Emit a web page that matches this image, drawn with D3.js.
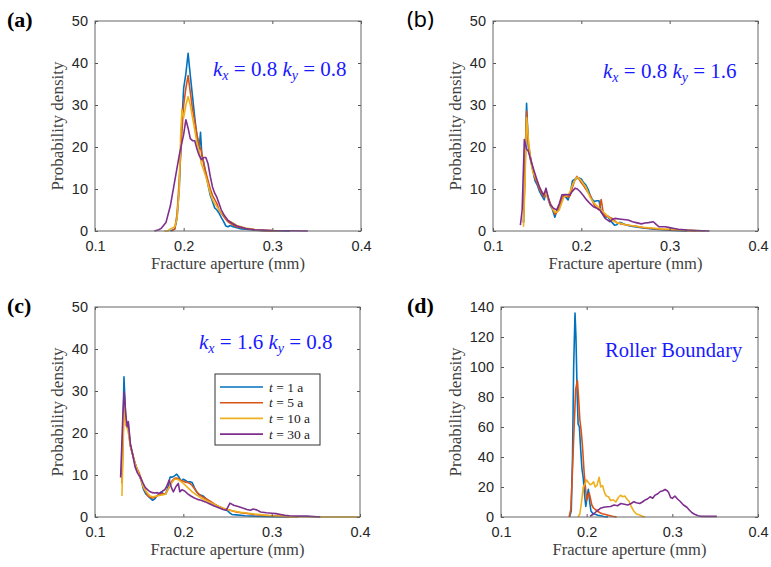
<!DOCTYPE html>
<html lang="en">
<head>
<meta charset="UTF-8">
<script src="https://cdnjs.cloudflare.com/ajax/libs/d3/7.8.5/d3.min.js"></script>
<title>Fracture aperture distributions</title>
<style>
  body { margin: 0; background: #fff; }
  svg { display: block; }
</style>
</head>
<body>
<svg id="fig" width="771" height="567"></svg>
<script>
// ---- data: [aperture (mm), probability density] ----
var aT1 = [[0.185,0],[0.19,0.5],[0.1925,3],[0.195,10],[0.1975,24],[0.2,34],[0.2025,37.5],[0.205,42.3],[0.2075,37],[0.21,32],[0.2125,27],[0.215,22.5],[0.2175,19.5],[0.219,23.5],[0.2205,18],[0.2225,16.5],[0.225,13.5],[0.2275,11],[0.23,8.5],[0.2325,7],[0.235,5.5],[0.2375,5],[0.24,4.2],[0.2425,3.2],[0.245,2.3],[0.2475,1.2],[0.25,1],[0.2525,1.3],[0.255,1.1],[0.26,0.8],[0.265,0.5],[0.27,0.4],[0.28,0.2],[0.29,0.1],[0.3,0.05],[0.32,0]];
var aT5 = [[0.187,0],[0.19,0.5],[0.1925,4],[0.195,12],[0.1975,22],[0.2,30],[0.2025,34],[0.205,37],[0.2075,33],[0.21,29],[0.2125,26],[0.215,23],[0.2175,20.5],[0.22,19],[0.2225,16],[0.225,14],[0.2275,12],[0.23,10],[0.2325,8.5],[0.235,7.5],[0.2375,6.5],[0.24,5],[0.2425,4.2],[0.245,3.5],[0.2475,2.8],[0.25,2.2],[0.255,1.5],[0.26,1],[0.265,0.8],[0.27,0.6],[0.28,0.3],[0.29,0.1],[0.3,0]];
var aT10 = [[0.178,0],[0.182,0],[0.185,0.5],[0.19,1],[0.1925,3],[0.195,10],[0.1965,22],[0.198,29],[0.2,27],[0.2025,30],[0.205,32],[0.2075,30],[0.21,27],[0.2125,24],[0.215,21],[0.2175,19],[0.22,16],[0.2225,14.5],[0.225,13],[0.2275,11],[0.23,9],[0.2325,7.5],[0.235,6.5],[0.2375,5.8],[0.24,5],[0.245,3.8],[0.25,2.5],[0.255,2],[0.26,1.3],[0.265,1],[0.27,0.7],[0.28,0.4],[0.29,0.2],[0.3,0.1],[0.31,0]];
var aT30 = [[0.167,0],[0.172,0.3],[0.175,0.7],[0.18,2],[0.185,6],[0.19,12],[0.195,18],[0.2,23],[0.2025,26.5],[0.205,24.5],[0.2075,22],[0.21,21.5],[0.2125,21.5],[0.215,19.5],[0.2175,18],[0.22,17],[0.2225,17.5],[0.225,17.5],[0.2275,16],[0.23,13],[0.2325,10.5],[0.235,9],[0.2375,8],[0.24,6.5],[0.2425,5],[0.245,4],[0.2475,3.2],[0.25,2.5],[0.255,1.8],[0.26,1.2],[0.265,0.9],[0.27,0.6],[0.28,0.3],[0.29,0.2],[0.3,0.1],[0.32,0.05],[0.34,0]];

var bT1 = [[0.1345,2],[0.136,14],[0.138,30.4],[0.14,20],[0.1425,17],[0.145,14.5],[0.1475,12],[0.15,11],[0.1525,9.5],[0.155,8.5],[0.158,7.4],[0.16,9.5],[0.1625,7.5],[0.165,6],[0.1675,5],[0.17,3.3],[0.1725,5],[0.175,6],[0.1775,7.5],[0.18,8.5],[0.1825,8],[0.185,7.4],[0.1875,9],[0.19,12],[0.1925,12.3],[0.195,12.5],[0.1975,12.6],[0.2,12.4],[0.2025,11.5],[0.205,11],[0.2075,10],[0.21,8.5],[0.2125,7.5],[0.215,7],[0.2175,7.2],[0.22,7.2],[0.2225,4.5],[0.225,4],[0.2275,3.3],[0.23,3.5],[0.2325,2.5],[0.235,2],[0.2375,1.4],[0.24,1.5],[0.2425,2],[0.245,2],[0.25,1.5],[0.255,1.2],[0.26,1],[0.27,0.7],[0.28,0.5],[0.29,0.3],[0.3,0.2],[0.31,0.1],[0.32,0]];
var bT5 = [[0.1345,2],[0.136,12],[0.138,28.5],[0.14,21],[0.1425,17.5],[0.145,15],[0.1475,12.5],[0.15,11.5],[0.1525,10],[0.155,9],[0.158,8],[0.16,9.5],[0.1625,8],[0.165,6.5],[0.1675,5.5],[0.17,4],[0.1725,4.5],[0.175,5.5],[0.1775,7.5],[0.18,8.5],[0.1825,8.5],[0.185,8],[0.1875,8.5],[0.19,10.5],[0.1925,12],[0.195,13],[0.1975,12.3],[0.2,11.5],[0.2025,10.8],[0.205,10],[0.2075,9.2],[0.21,8.5],[0.2125,7.2],[0.215,6],[0.2175,5.5],[0.22,5],[0.2225,7.5],[0.225,4],[0.2275,3.5],[0.23,3.5],[0.2325,3.2],[0.235,3],[0.2375,2.5],[0.24,2],[0.245,1.7],[0.25,1.5],[0.255,1.3],[0.26,1.2],[0.27,0.8],[0.28,0.6],[0.29,0.4],[0.3,0.3],[0.31,0.2],[0.32,0.1],[0.33,0]];
var bT10 = [[0.1345,1],[0.136,10],[0.138,27],[0.14,22],[0.1425,17],[0.145,14],[0.1475,13],[0.15,12],[0.1525,10.5],[0.155,9.5],[0.158,8.5],[0.16,9],[0.1625,7.5],[0.165,6],[0.1675,5.2],[0.17,4.5],[0.1725,4.5],[0.175,5],[0.1775,6.5],[0.18,8],[0.1825,8.3],[0.185,8.5],[0.1875,9.5],[0.19,11],[0.1925,12],[0.195,12.8],[0.1975,12.5],[0.2,12],[0.2025,11.2],[0.205,10.5],[0.2075,9.2],[0.21,8],[0.2125,7.2],[0.215,6.5],[0.2175,6],[0.22,5.5],[0.2225,5],[0.225,4.5],[0.2275,4],[0.23,3.5],[0.2325,3],[0.235,2.5],[0.24,2],[0.245,1.8],[0.25,1.5],[0.26,1.2],[0.27,0.9],[0.28,0.7],[0.29,0.5],[0.3,0.4],[0.31,0.3],[0.32,0.2],[0.33,0.1],[0.34,0]];
var bT30 = [[0.131,1.4],[0.133,5],[0.1355,21.8],[0.138,19.5],[0.14,19],[0.142,17.5],[0.144,16],[0.147,14],[0.15,12],[0.1525,10.5],[0.155,9.4],[0.1575,8.5],[0.16,10.2],[0.1625,8],[0.165,6.2],[0.168,5.5],[0.172,5],[0.175,6.5],[0.178,8.6],[0.182,8.7],[0.187,8.6],[0.19,9.5],[0.193,10.2],[0.1955,10],[0.1985,9.4],[0.202,8.5],[0.206,7.4],[0.21,6.5],[0.2136,5.8],[0.217,5.5],[0.221,5],[0.224,4],[0.227,3],[0.2325,2.2],[0.235,2.8],[0.238,3],[0.245,2.8],[0.253,2.6],[0.258,2.2],[0.262,2],[0.268,1.7],[0.272,1.9],[0.276,2],[0.2815,2.2],[0.285,1.5],[0.288,1],[0.295,1],[0.3,0.8],[0.305,0.6],[0.31,0.4],[0.32,0.2],[0.33,0.1],[0.345,0]];

var cT1 = [[0.1305,10],[0.1328,33.4],[0.135,22],[0.1375,22.5],[0.14,17],[0.1425,15],[0.145,13],[0.1475,11.5],[0.15,10],[0.1525,8.5],[0.155,6.5],[0.1575,5.5],[0.16,5],[0.1625,4.5],[0.165,4],[0.1675,4.3],[0.17,5],[0.1725,5.5],[0.175,6],[0.1775,5.5],[0.18,5.5],[0.1825,7],[0.185,9.5],[0.1875,9.5],[0.19,9.8],[0.1925,10.2],[0.195,9.5],[0.1975,8.5],[0.2,9],[0.2025,8.7],[0.205,8.3],[0.2075,8.4],[0.21,8.2],[0.2125,7],[0.215,6],[0.2175,5.3],[0.22,5.2],[0.2225,5],[0.225,4.5],[0.2275,4],[0.23,3.5],[0.235,3],[0.24,2.5],[0.245,2],[0.25,1.5],[0.2525,1],[0.255,0.6],[0.26,0.5],[0.265,0.4],[0.27,0.3],[0.28,0.2],[0.3,0.1],[0.32,0]];
var cT5 = [[0.1305,8],[0.133,28.5],[0.135,22],[0.1375,21],[0.14,17],[0.1425,15],[0.145,13],[0.1475,11.5],[0.15,10.5],[0.1525,9],[0.155,7],[0.1575,6],[0.16,5],[0.1625,4.7],[0.165,4.5],[0.1675,4.7],[0.17,5],[0.1725,5.3],[0.175,5.5],[0.1775,5.5],[0.18,5.5],[0.1825,6.5],[0.185,7.5],[0.1875,8.7],[0.19,9.2],[0.1925,9.3],[0.195,9],[0.1975,8.7],[0.2,8.5],[0.2025,8.3],[0.205,8.2],[0.2075,8],[0.21,7.5],[0.2125,6.8],[0.215,6],[0.2175,5.5],[0.22,5],[0.225,4.4],[0.23,3.8],[0.235,3.1],[0.24,2.5],[0.245,2.1],[0.25,1.8],[0.255,1.5],[0.26,1.2],[0.265,1],[0.27,0.9],[0.28,0.6],[0.29,0.4],[0.3,0.3],[0.31,0.2],[0.33,0]];
var cT10 = [[0.1305,5],[0.133,27],[0.135,22],[0.1375,20.5],[0.14,17],[0.1425,15],[0.145,13],[0.1475,11.5],[0.15,10],[0.1525,8.5],[0.155,7],[0.1575,6.2],[0.16,5.5],[0.1625,5],[0.165,4.8],[0.1675,4.9],[0.17,5],[0.1725,5.1],[0.175,5.2],[0.1775,5.3],[0.18,5.5],[0.1825,6.5],[0.185,7.5],[0.1875,8.3],[0.19,9],[0.1925,9],[0.195,8.8],[0.1975,8.4],[0.2,8],[0.2025,7.5],[0.205,7],[0.2075,6.5],[0.21,6],[0.2125,5.6],[0.215,5.2],[0.2175,4.9],[0.22,4.5],[0.225,4],[0.23,3.5],[0.235,3],[0.24,2.5],[0.245,2.1],[0.25,1.8],[0.255,1.5],[0.26,1.3],[0.265,1.1],[0.27,1],[0.28,0.7],[0.29,0.5],[0.3,0.3],[0.31,0.2],[0.32,0.1],[0.34,0.05],[0.36,0],[0.4,0]];
var cT30 = [[0.129,9.4],[0.1315,24],[0.133,29.8],[0.135,24],[0.1365,21.5],[0.1377,22.7],[0.14,17.5],[0.1425,15],[0.1453,12],[0.148,10.5],[0.151,9.6],[0.1545,8],[0.157,7],[0.16,6.4],[0.1625,6],[0.165,5.8],[0.168,5.7],[0.1705,5.8],[0.1736,5.6],[0.1765,6.2],[0.179,6.5],[0.181,7.2],[0.184,8.8],[0.1865,7],[0.1887,6],[0.1915,7.2],[0.1943,8],[0.196,6],[0.1985,6.5],[0.2015,6.2],[0.205,5.5],[0.2085,5],[0.212,4.6],[0.216,4.2],[0.22,4],[0.225,3.6],[0.23,3.1],[0.235,2.6],[0.24,2.2],[0.245,1.8],[0.2485,1.6],[0.2528,3.3],[0.257,2.8],[0.262,2.5],[0.268,2.1],[0.272,1.8],[0.276,1.6],[0.279,1.9],[0.283,1.7],[0.2875,1.2],[0.294,1],[0.3,0.9],[0.305,0.8],[0.31,0.6],[0.315,0.4],[0.32,0.3],[0.33,0.2],[0.34,0.2],[0.355,0]];

var dT1 = [[0.18,0],[0.182,4],[0.1835,40],[0.1848,100],[0.1864,136],[0.1875,120],[0.1888,85],[0.19,62],[0.1915,60],[0.193,45],[0.1945,32],[0.196,26],[0.1975,15],[0.199,7],[0.2005,14],[0.202,18.5],[0.2035,10],[0.205,4],[0.207,2.5],[0.21,1.8],[0.213,1.2],[0.216,0.8],[0.22,0.3],[0.225,0]];
var dT5 = [[0.1795,0],[0.1815,5],[0.1828,22],[0.185,55],[0.1872,85],[0.1892,91],[0.1905,80],[0.192,65],[0.1935,58],[0.195,48],[0.197,30],[0.1985,20],[0.2,11],[0.2015,14],[0.203,16],[0.2045,12],[0.206,8],[0.208,6],[0.21,5],[0.2125,4],[0.215,3],[0.218,2.2],[0.221,1.8],[0.225,1.2],[0.23,0.5],[0.235,0]];
var dT10 = [[0.19,0],[0.192,2],[0.194,10],[0.196,20],[0.198,22],[0.2,24.7],[0.202,23],[0.204,21.5],[0.206,22],[0.208,23.5],[0.21,20],[0.212,21],[0.2145,26.5],[0.2165,20],[0.2185,21],[0.221,16],[0.223,14],[0.2255,13.5],[0.228,11],[0.231,11.5],[0.234,10],[0.237,13],[0.2395,14.5],[0.242,13.5],[0.2445,14],[0.247,12],[0.2495,10.5],[0.252,7],[0.255,4],[0.258,2],[0.262,1.3],[0.265,0.5],[0.268,0]];
var dT30 = [[0.204,0.5],[0.208,2],[0.212,4],[0.216,5.8],[0.22,6.5],[0.224,6.8],[0.228,7],[0.232,8],[0.236,7.5],[0.24,9],[0.244,8.5],[0.248,8],[0.252,9],[0.255,10.2],[0.258,9.5],[0.262,9],[0.265,10],[0.268,11.3],[0.271,12],[0.274,13.5],[0.277,12.5],[0.28,14.6],[0.283,15.5],[0.286,17],[0.289,17.5],[0.2915,18.4],[0.294,17.5],[0.2955,16.5],[0.298,13],[0.3,12.4],[0.303,14],[0.306,12],[0.309,10.5],[0.313,8],[0.317,6.5],[0.32,4.5],[0.323,2.8],[0.326,1.8],[0.33,0.8],[0.334,0.4],[0.352,0.4]];

var seriesNames = ["t = 1 a", "t = 5 a", "t = 10 a", "t = 30 a"];
var colors = ["#0072BD", "#D95319", "#EDB120", "#7E2F8E"];
var xTicks = [0.1, 0.2, 0.3, 0.4];
var yTicks50 = [0, 10, 20, 30, 40, 50];
var yTicks140 = [0, 20, 40, 60, 80, 100, 120, 140];

var panels = [
  {tag: "(a)", tagFont: "serif", box: [95, 361, 21, 231], yMax: 50, yTicks: yTicks50, series: [aT1, aT5, aT10, aT30], note: ["0.8", "0.8"], noteX: 213, noteY: 76},
  {tag: "(b)", tagFont: "sans", box: [493, 758, 21, 231], yMax: 50, yTicks: yTicks50, series: [bT1, bT5, bT10, bT30], note: ["0.8", "1.6"], noteX: 603, noteY: 78},
  {tag: "(c)", tagFont: "serif", box: [95, 360, 307, 517], yMax: 50, yTicks: yTicks50, series: [cT1, cT5, cT10, cT30], note: ["1.6", "0.8"], noteX: 199, noteY: 349, legend: true},
  {tag: "(d)", tagFont: "serif", box: [501, 758, 307, 517], yMax: 140, yTicks: yTicks140, series: [dT1, dT5, dT10, dT30], roller: true}
];

var svg = d3.select("#fig");

panels.forEach(function(p) {
  var L = p.box[0], R = p.box[1], T = p.box[2], B = p.box[3];
  var x = d3.scaleLinear().domain([0.1, 0.4]).range([L, R]);
  var y = d3.scaleLinear().domain([0, p.yMax]).range([B, T]);
  var g = svg.append("g");

  // lines
  var line = d3.line().x(d => x(d[0])).y(d => y(d[1]));
  p.series.forEach(function(s, i) {
    g.append("path").datum(s)
      .attr("d", line)
      .attr("fill", "none")
      .attr("stroke", colors[i])
      .attr("stroke-width", 1.6)
      .attr("stroke-linejoin", "round");
  });

  // axes (ticks inside, MATLAB box style)
  g.append("g").attr("transform", "translate(0," + B + ")")
    .call(d3.axisBottom(x).tickValues(xTicks).tickFormat(d3.format(".1f")).tickSizeInner(-3).tickSizeOuter(0).tickPadding(10));
  g.append("g").attr("transform", "translate(0," + T + ")")
    .call(d3.axisTop(x).tickValues(xTicks).tickFormat("").tickSizeInner(-3).tickSizeOuter(0));
  g.append("g").attr("transform", "translate(" + L + ",0)")
    .call(d3.axisLeft(y).tickValues(p.yTicks).tickSizeInner(-3).tickSizeOuter(0).tickPadding(7));
  g.append("g").attr("transform", "translate(" + R + ",0)")
    .call(d3.axisRight(y).tickValues(p.yTicks).tickFormat("").tickSizeInner(-3).tickSizeOuter(0));
  g.selectAll(".domain").remove();
  g.selectAll(".tick line").attr("stroke", "#555");
  g.selectAll(".tick text").attr("font-family", "'Liberation Sans', Arial, sans-serif")
    .attr("font-size", 14.5).attr("fill", "#262626");

  g.append("rect").attr("x", L).attr("y", T).attr("width", R - L).attr("height", B - T)
    .attr("fill", "none").attr("stroke", "#666").attr("stroke-width", 1);

  // axis titles
  g.append("text").attr("x", (L + R) / 2).attr("y", B + 38)
    .attr("text-anchor", "middle").attr("font-family", "'Liberation Serif', 'Times New Roman', serif")
    .attr("font-size", 16.5).attr("fill", "#404040").text("Fracture aperture (mm)");
  var yLabX = p.yMax > 100 ? L - 46 : L - 38;
  g.append("text").attr("transform", "translate(" + (yLabX + 6) + "," + ((T + B) / 2) + ") rotate(-90)")
    .attr("text-anchor", "middle").attr("font-family", "'Liberation Serif', 'Times New Roman', serif")
    .attr("font-size", 17).attr("fill", "#404040").text("Probability density");

  // panel tag
  var tagX = L < 200 ? 7 : 407;
  var tag = g.append("text").attr("x", tagX).attr("y", T + 6).attr("font-size", 22).attr("fill", "#000").text(p.tag);
  if (p.tagFont === "serif") tag.attr("font-family", "'Liberation Serif', 'Times New Roman', serif").attr("font-weight", "bold");
  else tag.attr("font-family", "'Noto Sans', 'Open Sans', sans-serif");

  // blue annotation
  if (p.note) {
    var t = g.append("text").attr("x", p.noteX).attr("y", p.noteY)
      .attr("font-family", "'Liberation Serif', 'Times New Roman', serif")
      .attr("font-size", 21).attr("fill", "#1a1aff");
    t.append("tspan").attr("font-style", "italic").text("k");
    t.append("tspan").attr("font-style", "italic").attr("font-size", 14).attr("dy", 4).text("x");
    t.append("tspan").attr("dy", -4).text(" = " + p.note[0] + " ");
    t.append("tspan").attr("font-style", "italic").text("k");
    t.append("tspan").attr("font-style", "italic").attr("font-size", 14).attr("dy", 4).text("y");
    t.append("tspan").attr("dy", -4).text(" = " + p.note[1]);
  }
  if (p.roller) {
    g.append("text").attr("x", 605).attr("y", 357)
      .attr("font-family", "'Liberation Serif', 'Times New Roman', serif")
      .attr("font-size", 20.5).attr("fill", "#1a1aff").text("Roller Boundary");
  }

  // legend
  if (p.legend) {
    var lg = g.append("g");
    lg.append("rect").attr("x", 215).attr("y", 374).attr("width", 105).attr("height", 71)
      .attr("fill", "#fff").attr("stroke", "#333").attr("stroke-width", 1);
    seriesNames.forEach(function(name, i) {
      var yy = 387 + i * 15.7;
      lg.append("line").attr("x1", 220).attr("x2", 263).attr("y1", yy).attr("y2", yy)
        .attr("stroke", colors[i]).attr("stroke-width", 1.6);
      var parts = name.split(" ");
      var lt = lg.append("text").attr("x", 269).attr("y", yy + 4.5)
        .attr("font-family", "'Liberation Serif', 'Times New Roman', serif")
        .attr("font-size", 13.5).attr("fill", "#222");
      lt.append("tspan").attr("font-style", "italic").text(parts[0]);
      lt.append("tspan").text(" = " + parts[2] + " " + parts[3]);
    });
  }
});
</script>
</body>
</html>
